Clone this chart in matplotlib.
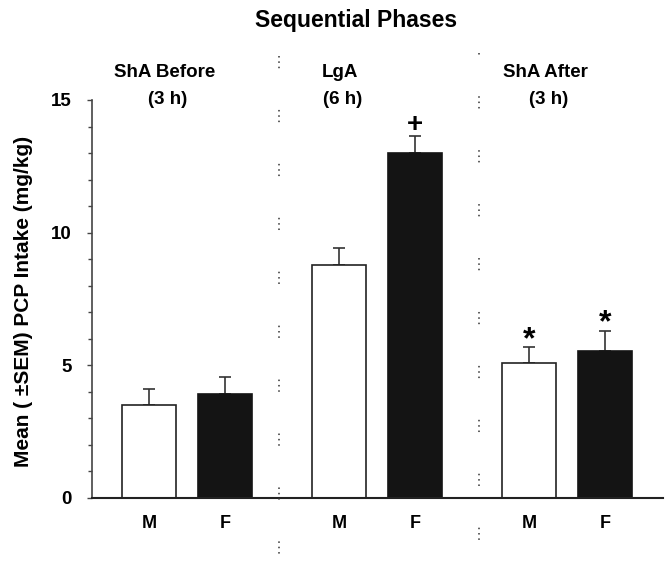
import matplotlib
matplotlib.use("Agg")
import matplotlib.pyplot as plt
from matplotlib.lines import Line2D
import numpy as np

plt.rcParams['font.family'] = ['Liberation Sans', 'DejaVu Sans']
plt.rcParams['font.weight'] = 'bold'

phase_names = ["ShA Before", "LgA", "ShA After"]
phase_durations = ["(3 h)", "(6 h)", "(3 h)"]
sexes = ["M", "F"]
male_mean = [3.50, 8.78, 5.10]
female_mean = [3.93, 13.00, 5.55]
male_sem = [0.60, 0.63, 0.59]
female_sem = [0.62, 0.63, 0.76]
male_marks = ["", "", "*"]
female_marks = ["", "+", "*"]
yticks = [0, 5, 10, 15]

W, H = 665, 561
fig = plt.figure(figsize=(W / 100, H / 100), dpi=100)
ax = fig.add_axes([92/W, 1-498/H, (663-92)/W, (498-100)/H])

group_gap = 2.5
xm = np.arange(3) * group_gap
xf = xm + 1.0
w = 0.71

ax.bar(xm, male_mean, width=w, color='white', edgecolor='#222222', linewidth=1.2, zorder=2)
ax.bar(xf, female_mean, width=w, color='#141414', edgecolor='#141414', linewidth=1.2, zorder=2)
ax.errorbar(xm, male_mean, yerr=[np.zeros(3), male_sem], fmt='none', ecolor='#333333',
            elinewidth=1.2, capsize=4.5, capthick=1.2, zorder=1)
ax.errorbar(xf, female_mean, yerr=[np.zeros(3), female_sem], fmt='none', ecolor='#333333',
            elinewidth=1.2, capsize=4.5, capthick=1.2, zorder=1)

def mark(x, top, mk):
    if mk == "+":
        ax.text(x, top - 0.08, mk, ha='center', va='bottom', fontsize=20, fontweight='bold')
    elif mk == "*":
        ax.text(x, top - 0.3, mk, ha='center', va='bottom', fontsize=23, fontweight='bold')

for x, m, s, mk in zip(xm, male_mean, male_sem, male_marks):
    mark(x, m + s, mk)
for x, m, s, mk in zip(xf, female_mean, female_sem, female_marks):
    mark(x, m + s, mk)

ax.set_xlim(-0.75, 2 * group_gap + 1 + 0.76)
ax.set_ylim(0, 15)
ax.set_yticks(yticks)
ax.set_yticklabels([str(t) for t in yticks], fontsize=13.5, fontweight='bold')
ax.set_yticks(np.arange(0, 16, 1), minor=True)
ax.tick_params(axis='y', which='major', length=3.6, width=1, direction='out', pad=11, color='#444444')
ax.tick_params(axis='y', which='minor', length=2.6, width=1, direction='out', color='#444444')

ticks_x = np.concatenate([[a, b] for a, b in zip(xm, xf)])
ax.set_xticks(ticks_x)
ax.set_xticklabels(sexes * 3, fontsize=13, fontweight='bold')
ax.tick_params(axis='x', length=0, pad=12)

for sp in ['top', 'right']:
    ax.spines[sp].set_visible(False)
ax.spines['left'].set_color('#444444')
ax.spines['bottom'].set_color('#222222')
ax.spines['left'].set_linewidth(1.2)
ax.spines['bottom'].set_linewidth(1.5)

ax.set_ylabel("Mean ( \u00b1SEM) PCP Intake (mg/kg)", fontsize=15, fontweight='bold')
ax.yaxis.set_label_coords(-(92 - 33) / (663 - 92), (498 - 301) / 398)

# phase headers (pixel positions of the header centres)
name_px = [165, 340, 545]
dur_px = [168, 343, 549]
for i in range(3):
    fig.text(name_px[i] / W, 1 - 72/H, phase_names[i], ha='center', va='center',
             fontsize=13.5, fontweight='bold')
    fig.text(dur_px[i] / W, 1 - 100/H, phase_durations[i], ha='center', va='center',
             fontsize=13.5, fontweight='bold')

fig.text(356/W, 1 - 20/H, "Sequential Phases", ha='center', va='center', fontsize=16.5, fontweight='bold')

# dotted separators
for sx, ytop, off in [(1.71, 56, 0), (4.34, 53, 7)]:
    xpix = ax.transData.transform((sx, 0))[0]
    ln = Line2D([xpix / W, xpix / W], [1 - ytop/H, 0.0], transform=fig.transFigure,
                color='#333333', linewidth=1.1, linestyle=(off, (1, 2.5, 1, 2.5, 1, 27.3)))
    fig.add_artist(ln)

fig.savefig("out.png", dpi=100)
